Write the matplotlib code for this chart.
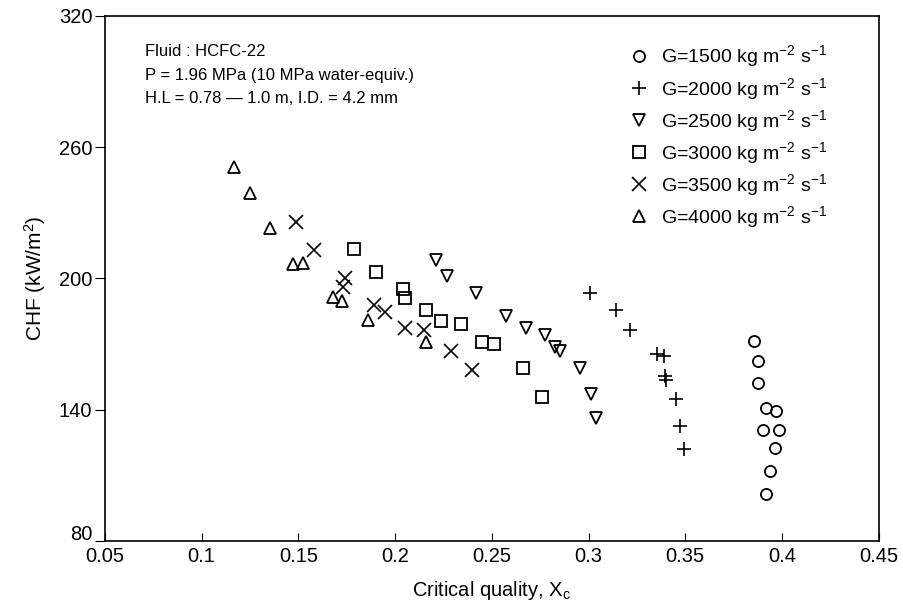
import numpy as np
import matplotlib
matplotlib.use("Agg")
import matplotlib.pyplot as plt
import matplotlib.transforms as mtransforms

plt.rcParams['font.family'] = ['Liberation Sans', 'DejaVu Sans']
plt.rcParams['mathtext.fontset'] = 'custom'
plt.rcParams['mathtext.rm'] = 'Liberation Sans'
plt.rcParams['mathtext.it'] = 'Liberation Sans'

# G=1500 kg m-2 s-1
x1500 = [0.3854, 0.3876, 0.3876, 0.392, 0.397, 0.390, 0.3985, 0.3963, 0.3937, 0.3916]
y1500 = [171.3, 162.1, 152.0, 140.9, 139.3, 130.6, 130.6, 122.6, 111.9, 101.7]
# G=2000
x2000 = [0.3006, 0.3144, 0.3213, 0.3354, 0.339, 0.3394, 0.3399, 0.345, 0.3472, 0.3492]
y2000 = [193.4, 185.4, 176.3, 165.3, 164.4, 155.3, 153.8, 144.7, 132.5, 122.1]
# G=2500
x2500 = [0.2214, 0.227, 0.2417, 0.2576, 0.2676, 0.2774, 0.2826, 0.2855, 0.2955, 0.3015, 0.304]
y2500 = [208.3, 201.3, 193.4, 182.9, 177.4, 174.0, 168.7, 166.7, 159.0, 147.0, 136.3]
# G=3000
x3000 = [0.179, 0.190, 0.204, 0.205, 0.216, 0.224, 0.234, 0.245, 0.251, 0.266, 0.276]
y3000 = [213.5, 203.0, 195.0, 191.0, 185.5, 180.5, 179.0, 171.0, 170.0, 159.0, 146.0]
# G=3500
x3500 = [0.149, 0.158, 0.174, 0.173, 0.189, 0.195, 0.205, 0.215, 0.229, 0.240]
y3500 = [226.0, 213.0, 200.0, 196.0, 188.0, 184.5, 177.5, 176.5, 167.0, 158.0]
# G=4000
x4000 = [0.117, 0.125, 0.1356, 0.1473, 0.1522, 0.1677, 0.1728, 0.186, 0.216]
y4000 = [251.0, 239.2, 223.0, 206.8, 207.0, 191.5, 189.5, 180.9, 170.8]

xticks = [0.05, 0.1, 0.15, 0.2, 0.25, 0.3, 0.35, 0.4, 0.45]
xticklabels = ['0.05', '0.1', '0.15', '0.2', '0.25', '0.3', '0.35', '0.4', '0.45']
yticks = [80, 140, 200, 260, 320]

fig = plt.figure(figsize=(9.04, 6.12), dpi=100)
ax = fig.add_axes([0.116, 0.116, 0.856, 0.858])

series = [
    (x1500, y1500, 'o', 'G=1500 kg m$^{-2}$ s$^{-1}$'),
    (x2000, y2000, '+', 'G=2000 kg m$^{-2}$ s$^{-1}$'),
    (x2500, y2500, 'v', 'G=2500 kg m$^{-2}$ s$^{-1}$'),
    (x3000, y3000, 's', 'G=3000 kg m$^{-2}$ s$^{-1}$'),
    (x3500, y3500, 'x', 'G=3500 kg m$^{-2}$ s$^{-1}$'),
    (x4000, y4000, '^', 'G=4000 kg m$^{-2}$ s$^{-1}$'),
]
for xs, ys, m, lab in series:
    if m in ('+', 'x'):
        ax.plot(xs, ys, linestyle='none', marker=m, color='black',
                markersize=10, markeredgewidth=1.2, label=lab)
    else:
        ax.plot(xs, ys, linestyle='none', marker=m, markerfacecolor='none',
                markeredgecolor='black', markersize=8, markeredgewidth=1.3, label=lab)

ax.set_xlim(0.05, 0.45)
ax.set_ylim(80, 320)
ax.set_xticks(xticks)
ax.set_xticklabels(xticklabels)
ax.set_yticks(yticks)
ax.tick_params(axis='x', direction='in', length=6, labelsize=14.5, pad=4)
ax.tick_params(axis='y', direction='out', length=7, labelsize=14.5, pad=2)
for s in ax.spines.values():
    s.set_linewidth(1.2)

# lift the "80" label a little, as in the original where it sits above 0.05
lab80 = ax.get_yticklabels()[0]
lab80.set_transform(lab80.get_transform() +
                    mtransforms.ScaledTranslation(0, 6 / 72, fig.dpi_scale_trans))

ax.set_xlabel('Critical quality, X$_c$', fontsize=14.5, labelpad=10)
ax.set_ylabel('CHF (kW/m$^2$)', fontsize=15, labelpad=8)

note_font = ['Liberation Sans Narrow', 'Liberation Sans', 'DejaVu Sans']
ax.text(0.052, 0.932, 'Fluid : HCFC-22', transform=ax.transAxes, fontsize=12,
        va='center', family=note_font)
ax.text(0.052, 0.887, 'P = 1.96 MPa (10 MPa water-equiv.)', transform=ax.transAxes,
        fontsize=12, va='center', family=note_font)
ax.text(0.052, 0.843, 'H.L = 0.78 \u2014 1.0 m, I.D. = 4.2 mm', transform=ax.transAxes,
        fontsize=12, va='center', family=note_font)

ax.legend(loc='upper left', bbox_to_anchor=(0.668, 0.966), frameon=False, numpoints=1,
          handlelength=0.8, handletextpad=0.73, labelspacing=0.32, borderpad=0,
          fontsize=14)

fig.savefig('out.png', dpi=100)
